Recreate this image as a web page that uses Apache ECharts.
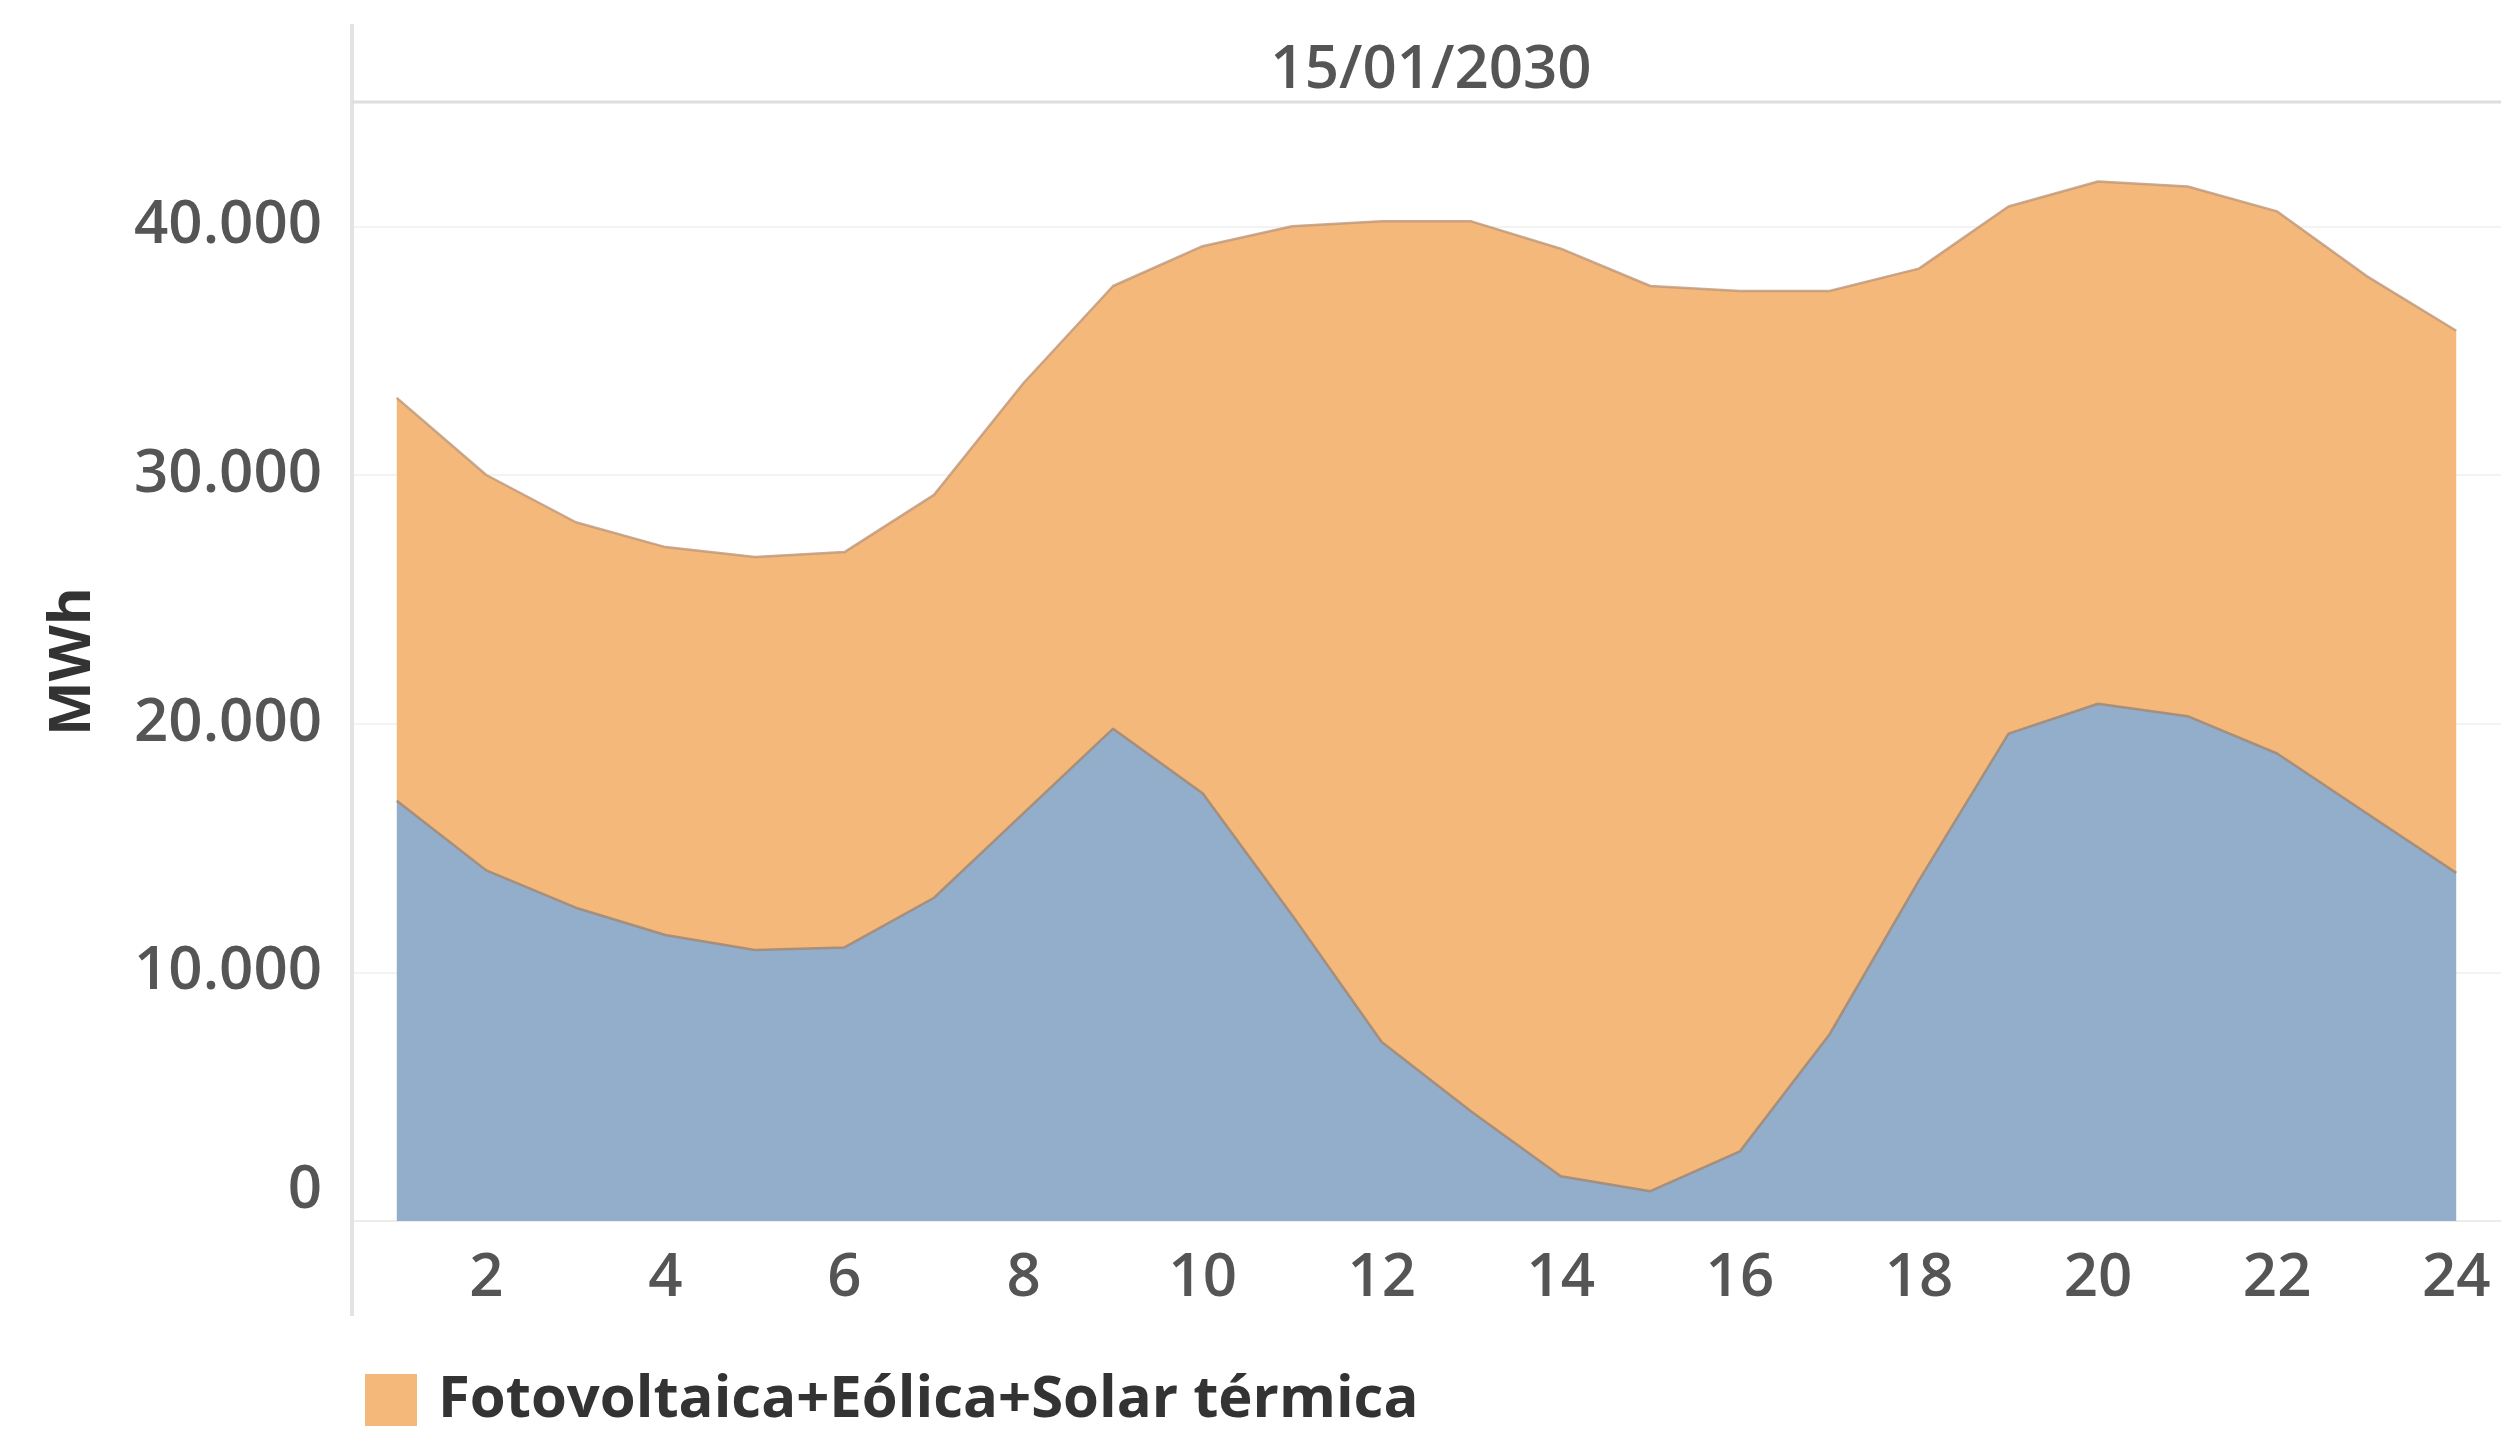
<!DOCTYPE html>
<html>
<head>
<meta charset="utf-8">
<script src="https://cdn.jsdelivr.net/npm/echarts@6/dist/echarts.min.js"></script>
<style>
  html, body { margin: 0; padding: 0; background: #ffffff; }
  #chart { width: 2501px; height: 1434px; }
</style>
</head>
<body>
<div id="chart"></div>
<script>
// ---- data ----
const hours = ['1','2','3','4','5','6','7','8','9','10','11','12','13','14','15','16','17','18','19','20','21','22','23','24'];
// lower (blue) area, MWh
const blueValues = [16900, 14100, 12600, 11500, 10900, 11000, 13000, 16400, 19800, 17200, 12300, 7200,
                    4400, 1800, 1200, 2800, 7500, 13700, 19600, 20800, 20300, 18800, 16400, 14000];
// Fotovoltaica+Eólica+Solar térmica (orange), stacked on top, MWh
const orangeValues = [16200, 15900, 15500, 15600, 15800, 15900, 16200, 17300, 17800, 22000, 27700, 33000,
                      35800, 37300, 36400, 34600, 29900, 24600, 21200, 21000, 21300, 21800, 21600, 21800];
const yTicks = [0, 10000, 20000, 30000, 40000];
const titleText = '15/01/2030';
const orangeName = 'Fotovoltaica+Eólica+Solar térmica';
const blueName = 'Otras';
const yName = 'MWh';

const FONT = '"Open Sans", "Noto Sans", sans-serif';
const chart = echarts.init(document.getElementById('chart'), null, { renderer: 'canvas' });

function fmt(v) {
  return String(v).replace(/\B(?=(\d{3})+(?!\d))/g, '.');
}

const option = {
  animation: false,
  backgroundColor: '#ffffff',
  title: {
    text: titleText,
    left: 1426,
    top: 36,
    textAlign: 'center',
    textStyle: { fontFamily: FONT, fontSize: 60, fontWeight: 600, color: '#555555' }
  },
  legend: {
    data: [orangeName],
    left: 360,
    top: 1366,
    icon: 'rect',
    itemWidth: 52,
    itemHeight: 52,
    textStyle: { fontFamily: FONT, fontSize: 58, fontWeight: 700, color: '#333333', padding: [0, 0, 0, 16] }
  },
  grid: { left: 352, right: 0, top: 102, bottom: 213, containLabel: false },
  xAxis: {
    type: 'category',
    data: hours,
    boundaryGap: true,
    axisLine: { show: true, lineStyle: { color: '#ececec', width: 2 } },
    axisTick: { show: false },
    splitLine: { show: false },
    axisLabel: {
      interval: function (index) { return index % 2 === 1; },
      margin: 28,
      fontFamily: FONT, fontSize: 60, fontWeight: 600, color: '#555555'
    }
  },
  yAxis: {
    type: 'value',
    min: 0,
    max: 45000,
    interval: 10000,
    name: yName,
    nameLocation: 'middle',
    nameRotate: 90,
    nameGap: 250,
    nameTextStyle: { fontFamily: FONT, fontSize: 58, fontWeight: 700, color: '#333333' },
    axisLine: { show: false },
    axisTick: { show: false },
    splitLine: { show: true, lineStyle: { color: '#f3f3f3', width: 2 } },
    axisLabel: {
      showMaxLabel: false,
      margin: 30,
      verticalAlignMinLabel: 'bottom',
      fontFamily: FONT, fontSize: 60, fontWeight: 600, color: '#555555',
      formatter: function (v) { return yTicks.indexOf(v) >= 0 ? fmt(v) : ''; }
    }
  },
  graphic: [
    { type: 'line', silent: true, z: 100,
      shape: { x1: 352, y1: 24, x2: 352, y2: 1316 },
      style: { stroke: '#e3e3e3', lineWidth: 4 } },
    { type: 'line', silent: true, z: 100,
      shape: { x1: 352, y1: 102, x2: 2501, y2: 102 },
      style: { stroke: '#dedede', lineWidth: 3 } }
  ],
  series: [
    {
      name: blueName,
      type: 'line',
      stack: 'total',
      z: 3,
      symbol: 'none',
      smooth: false,
      data: blueValues,
      itemStyle: { color: '#93AECB' },
      lineStyle: { color: 'rgba(160,135,115,0.85)', width: 2.5 },
      areaStyle: { color: '#93AECB', opacity: 1 }
    },
    {
      name: orangeName,
      type: 'line',
      stack: 'total',
      z: 2,
      symbol: 'none',
      smooth: false,
      data: orangeValues,
      itemStyle: { color: '#F4B87B' },
      lineStyle: { color: 'rgba(190,150,120,0.8)', width: 2.5 },
      areaStyle: { color: '#F4B87B', opacity: 1 }
    }
  ]
};
chart.setOption(option);
</script>
</body>
</html>
